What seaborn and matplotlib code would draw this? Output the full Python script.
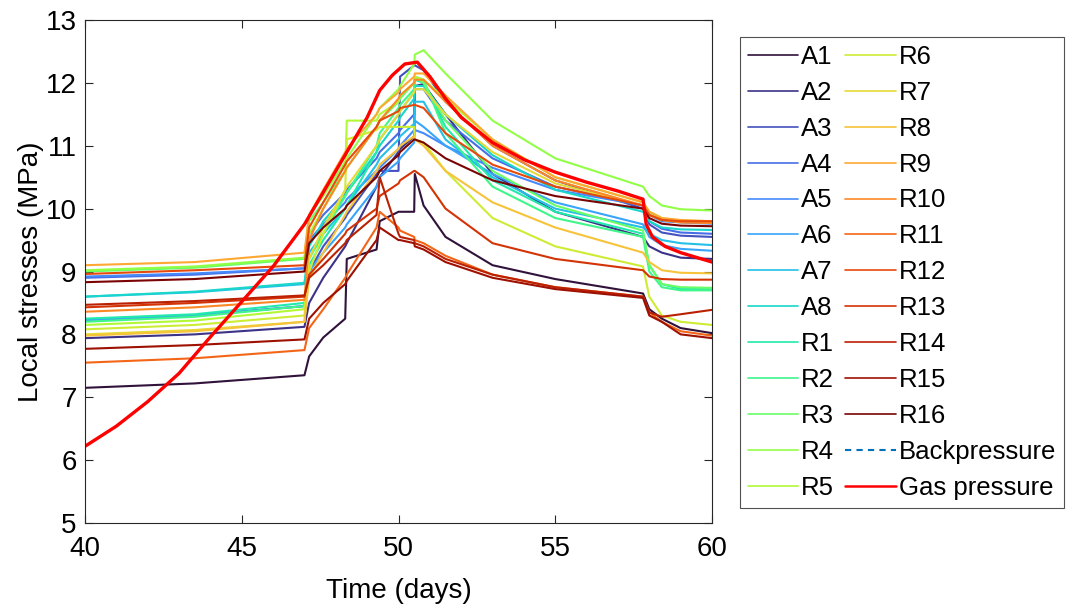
import numpy as np
import pandas as pd
import matplotlib.pyplot as plt
import seaborn as sns
from matplotlib.lines import Line2D

# shared time grid (days) for the gauge readings
T = [40, 43.5, 47.0, 47.15, 47.6, 48.3, 48.35, 49.3, 49.4, 50.0, 50.05,
     50.5, 50.52, 50.8, 51.5, 53, 55, 57.8, 58.0, 58.4, 59, 60]

A1 = [7.15, 7.22, 7.35, 7.65, 7.95, 8.25, 9.2, 9.35, 9.8, 9.95, 9.95, 9.95, 10.55, 10.05, 9.55, 9.1, 8.88, 8.65, 8.4, 8.25, 8.1, 8.02]
A2 = [7.94, 8.0, 8.12, 8.5, 8.9, 9.4, 9.45, 10.35, 10.5, 10.9, 10.95, 11.15, 11.95, 11.98, 11.5, 10.55, 9.95, 9.55, 9.4, 9.3, 9.22, 9.2]
A3 = [8.23, 8.3, 8.45, 9.0, 9.4, 9.85, 9.9, 10.55, 10.6, 10.6, 12.1, 12.28, 12.28, 12.2, 11.7, 11.0, 10.45, 10.0, 9.75, 9.62, 9.57, 9.55]
A4 = [8.9, 8.95, 9.05, 9.6, 9.9, 10.25, 10.3, 10.8, 10.9, 11.2, 11.25, 11.5, 11.9, 11.9, 11.4, 10.8, 10.35, 10.05, 9.8, 9.68, 9.62, 9.6]
A5 = [8.92, 8.97, 9.05, 9.5, 9.75, 10.1, 10.15, 10.6, 10.65, 10.95, 11.0, 11.25, 11.25, 11.2, 11.0, 10.65, 10.3, 10.05, 9.9, 9.8, 9.78, 9.76]
A6 = [8.23, 8.3, 8.45, 9.0, 9.3, 9.7, 9.75, 10.35, 10.5, 10.75, 10.8, 11.05, 11.4, 11.3, 11.0, 10.55, 10.1, 9.75, 9.55, 9.42, 9.36, 9.33]
A7 = [8.6, 8.67, 8.8, 9.3, 9.6, 10.0, 10.05, 10.7, 10.8, 11.1, 11.15, 11.35, 11.7, 11.7, 11.1, 10.5, 10.0, 9.7, 9.6, 9.5, 9.45, 9.42]
A8 = [8.6, 8.68, 8.82, 9.4, 9.8, 10.2, 10.25, 10.9, 11.0, 11.4, 11.45, 11.75, 11.95, 11.95, 11.5, 10.85, 10.3, 9.95, 9.8, 9.7, 9.67, 9.66]
R1 = [8.25, 8.32, 8.5, 9.1, 9.5, 10.0, 10.05, 10.9, 11.1, 11.5, 11.55, 11.85, 12.05, 12.0, 11.3, 10.45, 9.95, 9.6, 9.1, 8.8, 8.72, 8.72]
R2 = [8.2, 8.28, 8.45, 9.2, 9.6, 10.2, 10.25, 11.0, 11.2, 11.6, 11.65, 11.9, 12.1, 12.05, 11.2, 10.35, 9.85, 9.55, 9.0, 8.75, 8.7, 8.7]
R3 = [9.0, 9.06, 9.2, 9.8, 10.1, 10.6, 10.65, 11.3, 11.4, 11.7, 11.75, 12.0, 12.1, 12.0, 11.4, 10.6, 10.05, 9.65, 9.1, 8.8, 8.75, 8.74]
R4 = [9.02, 9.08, 9.22, 9.9, 10.2, 10.75, 10.8, 11.5, 11.6, 11.9, 11.95, 12.3, 12.45, 12.52, 12.15, 11.4, 10.8, 10.35, 10.2, 10.05, 9.99, 9.97]
R5 = [8.15, 8.22, 8.4, 9.6, 10.0, 10.6, 11.4, 11.4, 11.5, 11.7, 11.8, 12.0, 12.1, 12.05, 11.75, 11.1, 10.5, 10.1, 9.95, 9.85, 9.8, 9.8]
R6 = [8.08, 8.15, 8.3, 9.0, 9.6, 10.3, 11.1, 11.25, 11.3, 11.3, 11.3, 11.3, 11.1, 11.05, 10.6, 9.85, 9.4, 9.08, 8.6, 8.3, 8.2, 8.15]
R7 = [8.0, 8.07, 8.2, 9.2, 9.7, 10.3, 10.35, 11.0, 11.1, 11.5, 11.55, 11.85, 11.9, 11.9, 11.5, 10.9, 10.4, 10.05, 9.9, 9.82, 9.8, 9.8]
R8 = [7.98, 8.05, 8.2, 8.9, 9.3, 9.9, 9.95, 10.6, 10.7, 10.95, 11.0, 11.15, 11.1, 11.0, 10.6, 10.1, 9.7, 9.3, 9.15, 9.02, 8.98, 8.97]
R9 = [9.1, 9.15, 9.3, 9.9, 10.3, 10.9, 10.95, 11.5, 11.6, 11.85, 11.9, 12.1, 12.15, 12.15, 11.8, 11.1, 10.5, 10.1, 9.95, 9.85, 9.82, 9.8]
R10 = [8.36, 8.43, 8.55, 9.5, 10.0, 10.6, 10.65, 11.3, 11.4, 11.75, 11.8, 12.0, 12.05, 12.05, 11.7, 11.0, 10.45, 10.05, 9.9, 9.82, 9.78, 9.77]
R11 = [7.55, 7.62, 7.75, 8.1, 8.4, 8.9, 8.95, 9.7, 9.95, 9.7, 9.65, 9.55, 9.5, 9.45, 9.25, 8.95, 8.75, 8.6, 8.35, 8.2, 8.05, 7.98]
R12 = [8.96, 9.02, 9.1, 9.7, 10.1, 10.7, 10.75, 11.3, 11.4, 11.55, 11.6, 11.65, 11.65, 11.6, 11.2, 10.7, 10.35, 10.05, 9.9, 9.82, 9.8, 9.8]
R13 = [8.43, 8.5, 8.6, 8.95, 9.2, 9.6, 9.65, 10.0, 10.2, 10.4, 10.45, 10.6, 10.6, 10.5, 10.0, 9.45, 9.2, 9.02, 8.92, 8.88, 8.87, 8.87]
R14 = [8.47, 8.53, 8.62, 8.9, 9.1, 9.45, 9.5, 9.9, 10.5, 9.6, 9.55, 9.5, 9.45, 9.4, 9.2, 8.95, 8.75, 8.6, 8.35, 8.28, 8.32, 8.39]
R15 = [7.77, 7.83, 7.92, 8.25, 8.5, 8.8, 8.85, 9.5, 9.7, 9.5, 9.5, 9.45, 9.4, 9.35, 9.15, 8.9, 8.72, 8.58, 8.3, 8.2, 8.0, 7.94]
R16 = [8.83, 8.88, 9.0, 9.45, 9.7, 10.0, 10.05, 10.5, 10.6, 10.85, 10.9, 11.1, 11.1, 11.05, 10.8, 10.45, 10.2, 10.0, 9.85, 9.76, 9.73, 9.72]

gas_t = [40, 41, 42, 43, 44, 45, 46, 47, 48, 49, 49.4, 49.8, 50.2, 50.6, 51,
         51.5, 52, 53, 54, 55, 56, 57, 57.8, 57.9, 58.1, 58.5, 59, 60]
gas_p = [6.22, 6.54, 6.93, 7.38, 7.96, 8.52, 9.08, 9.75, 10.6, 11.45, 11.88, 12.12,
         12.3, 12.33, 12.1, 11.75, 11.45, 11.05, 10.78, 10.58, 10.42, 10.28, 10.15,
         9.75, 9.55, 9.4, 9.3, 9.15]

names = ["A1", "A2", "A3", "A4", "A5", "A6", "A7", "A8",
         "R1", "R2", "R3", "R4", "R5", "R6", "R7", "R8",
         "R9", "R10", "R11", "R12", "R13", "R14", "R15", "R16"]
series = [A1, A2, A3, A4, A5, A6, A7, A8, R1, R2, R3, R4, R5, R6, R7, R8,
          R9, R10, R11, R12, R13, R14, R15, R16]

df = pd.DataFrame({"t": np.tile(T, len(names)),
                   "stress": np.concatenate(series),
                   "gauge": np.repeat(names, len(T))})

sns.set_style("ticks")
plt.rcParams["font.family"] = ["Liberation Sans", "DejaVu Sans"]
plt.rcParams["text.color"] = "black"
plt.rcParams["axes.labelcolor"] = "black"

colors = plt.get_cmap("turbo")(np.linspace(0, 1, len(names)))
palette = dict(zip(names, colors))

fig = plt.figure(figsize=(10.81, 6.08), dpi=100)
ax = fig.add_axes([85 / 1081, 85 / 608, 627 / 1081, 503 / 608])

sns.lineplot(data=df, x="t", y="stress", hue="gauge", palette=palette,
             estimator=None, sort=False, lw=1.5, legend=False, ax=ax)
sns.lineplot(x=gas_t, y=gas_p, color="#ff0000", lw=2.4, ax=ax)

ax.set_xlim(40, 60)
ax.set_ylim(5, 13)
ax.set_xticks(range(40, 61, 5))
ax.set_yticks(range(5, 14))
ax.tick_params(direction="in", top=True, right=True, length=6, width=0.8,
               labelsize=20, color="#262626", labelcolor="black")
ax.tick_params(axis="x", pad=9)
ax.tick_params(axis="y", pad=6)
for s in ax.spines.values():
    s.set_color("#262626")
    s.set_linewidth(0.8)
ax.set_xlabel("Time (days)", fontsize=20, labelpad=12)
ax.set_ylabel("Local stresses (MPa)", fontsize=20, labelpad=1)

handles = [Line2D([], [], color=palette[n], lw=1.2) for n in names]
handles.append(Line2D([], [], color="#0072bd", lw=1.5, ls=(0, (3, 2.5))))
handles.append(Line2D([], [], color="#ff0000", lw=1.8))
labels = names + ["Backpressure", "Gas pressure"]

leg = fig.legend(handles, labels, ncol=2, loc="upper left",
                 bbox_to_anchor=(740 / 1081, 1 - 37 / 608),
                 frameon=True, fancybox=False, edgecolor="#262626",
                 fontsize=18.5, handlelength=1.95, handletextpad=0.12,
                 columnspacing=0.45, labelspacing=0.465, borderpad=0.3,
                 borderaxespad=0)
leg.get_frame().set_linewidth(0.8)

plt.savefig("out.png", dpi=100)
